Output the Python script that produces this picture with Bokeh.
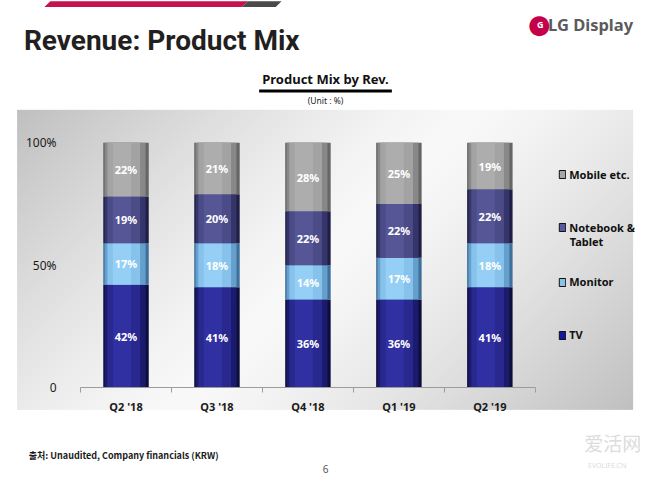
import numpy as np
from bokeh.plotting import figure
from bokeh.models import (ColumnDataSource, Range1d, LinearAxis, FixedTicker, Label,
                          Legend, LegendItem, BoxAnnotation, PolyAnnotation)
from bokeh.core.properties import value
from bokeh.embed import file_html
from bokeh.resources import INLINE

# ---------------- data ----------------
categories = ["Q2 '18", "Q3 '18", "Q4 '18", "Q1 '19", "Q2 '19"]
tv = [42, 41, 36, 36, 41]
monitor = [17, 18, 14, 17, 18]
notebook = [19, 20, 22, 22, 22]
mobile = [22, 21, 28, 25, 19]
series_keys = ["tv", "monitor", "notebook", "mobile"]
series_names = ["TV", "Monitor", "Notebook &", "Mobile etc."]
series_name_2nd_line = {"notebook": "Tablet"}
y_ticks = [0, 50, 100]
y_tick_labels = ["0", "50%", "100%"]

# ---------------- layout (reference pixels, scaled into the canvas) ----------------
W, H = 650, 480
FX, FY = W / 666.0, H / 496.0
PL, PR = 82, 548          # category band
BASE, TOP = 400, 147      # y of 0 and 100
n = len(categories)


def cx(px):
    return px * FX


def cy(py):
    return py * FY


sx = (PR - PL) * FX / n
sy = (BASE - TOP) * FY / 100.0
x_start = -0.5 - cx(PL) / sx
x_end = x_start + W / sx
y_end = 100 + cy(TOP) / sy
y_start = y_end - H / sy


def scr_x(px):
    return cx(px)


def scr_y(py):
    return H - cy(py)


def dx(px):
    return x_start + cx(px) / sx


def dy(py):
    return y_end - cy(py) / sy


p = figure(width=W, height=H, x_range=Range1d(x_start, x_end), y_range=Range1d(y_start, y_end),
           output_backend="svg", toolbar_location=None, min_border=0,
           x_axis_type=None, y_axis_type=None, outline_line_color=None,
           background_fill_color="white", border_fill_color="white")

# ---------------- panel gradient background ----------------
gx0, gx1, gy0, gy1 = 17, 649, 113, 423
gw, gh = int(cx(gx1) - cx(gx0)), int(cy(gy1) - cy(gy0))
u = np.linspace(0, 1, gw)[None, :]
v = np.linspace(0, 1, gh)[:, None]
t = (u * gw + v * gh) / (gw + gh)
d = np.abs(2 * t - 1)
g = (249 - (249 - 192) * d ** 1.3).astype(np.uint8)
img = np.zeros((gh, gw), dtype=np.uint32)
view = img.view(dtype=np.uint8).reshape((gh, gw, 4))
view[..., 0] = g
view[..., 1] = g
view[..., 2] = g
view[..., 3] = 255
img = img[::-1]
p.image_rgba(image=[img], x=dx(gx0), y=dy(gy1), dw=gw / sx, dh=gh / sy, level="image")

# ---------------- bars with cylinder shading ----------------
xs = np.arange(n)
shades = {
    "tv":       ["#0e0e3c", "#1b1b6e", "#28288f", "#3030a2"],
    "monitor":  ["#3f6f9a", "#65a0cc", "#86c2ec", "#96cff5"],
    "notebook": ["#1f1f44", "#35356c", "#4b4b88", "#565696"],
    "mobile":   ["#666666", "#888888", "#a3a3a3", "#adadad"],
}
layers = [(0.50, 0.0), (0.45, -0.01), (0.36, -0.025), (0.20, -0.045)]
for li, (w, off) in enumerate(layers):
    src = ColumnDataSource(dict(x=xs + off, tv=tv, monitor=monitor, notebook=notebook, mobile=mobile))
    p.vbar_stack(series_keys, x="x", width=w, source=src,
                 fill_color=[shades[k][li] for k in series_keys], line_color=None)

# ---------------- value labels ----------------
vals = np.array([tv, monitor, notebook, mobile], dtype=float)
cum = np.cumsum(vals, axis=0)
mid = cum - vals / 2
lab_src = ColumnDataSource(dict(
    x=np.tile(xs, 4),
    y=mid.flatten(),
    t=[f"{int(vv)}%" for vv in vals.flatten()],
))
p.text(x="x", y="y", text="t", source=lab_src, text_color="white",
       text_font=value("Noto Sans"), text_font_style="bold", text_font_size="11px",
       text_align="center", text_baseline="middle")

# ---------------- axes ----------------
xaxis = LinearAxis(fixed_location=0,
                   ticker=FixedTicker(ticks=[float(i) for i in xs],
                                      minor_ticks=[i - 0.5 for i in range(n + 1)]),
                   major_label_overrides={int(i): c for i, c in enumerate(categories)},
                   bounds=(-0.5, n - 0.5), axis_line_color="#9c9c9c",
                   major_tick_line_color=None, major_tick_out=0, major_tick_in=0,
                   minor_tick_line_color="#9c9c9c", minor_tick_in=0, minor_tick_out=5,
                   major_label_standoff=6, major_label_text_font="Noto Sans",
                   major_label_text_font_style="bold", major_label_text_font_size="11px",
                   major_label_text_color="#1a1a1a")
p.add_layout(xaxis, "below")

yaxis = LinearAxis(fixed_location=-0.5, ticker=FixedTicker(ticks=y_ticks),
                   major_label_overrides=dict(zip(y_ticks, y_tick_labels)),
                   axis_line_color=None, major_tick_line_color=None, minor_tick_line_color=None,
                   major_tick_out=0, major_tick_in=0, major_label_standoff=24,
                   major_label_text_font="Noto Sans", major_label_text_font_size="12px",
                   major_label_text_color="#1a1a1a")
p.add_layout(yaxis, "left")


# ---------------- texts helper ----------------
def add_label(text, px, py, size, color="#1a1a1a", font="Noto Sans", style="normal",
              align="left", baseline="middle", x_shift=0.0):
    p.add_layout(Label(x=scr_x(px) + x_shift, y=scr_y(py), x_units="screen", y_units="screen",
                       text=text, text_font=font, text_font_size=size, text_font_style=style,
                       text_color=color, text_align=align, text_baseline=baseline))


# ---------------- legend (one block per item, so each sits where the reference has it) ----------------
legend_colors = {"tv": "#1616a0", "monitor": "#86c2ea", "notebook": "#5a5aa2", "mobile": "#a6a6a6"}
legend_centers = {"mobile": 181, "notebook": 236, "monitor": 292, "tv": 347}
LEG_X, GLYPH_W, STANDOFF = 572, 8, 3
for k, name in zip(series_keys, series_names):
    r = p.vbar(x=[0], top=[float("nan")], width=0.5, fill_color=legend_colors[k],
               line_color="#111111", line_width=1)
    yc = legend_centers[k]
    lg = Legend(items=[LegendItem(label=name, renderers=[r])],
                location=(scr_x(LEG_X), scr_y(yc) - 6.5), orientation="vertical",
                glyph_width=GLYPH_W, glyph_height=10, label_standoff=STANDOFF, label_height=13,
                label_text_font="Noto Sans", label_text_font_style="bold",
                label_text_font_size="11px", label_text_color="#111111",
                padding=0, margin=0, spacing=0, border_line_color=None, background_fill_alpha=0)
    p.add_layout(lg)
    if k in series_name_2nd_line:
        add_label(series_name_2nd_line[k], LEG_X, yc + 13, "11px", color="#111111", style="bold",
                  x_shift=GLYPH_W + STANDOFF)

# ---------------- other texts ----------------
add_label("Revenue: Product Mix", 24, 41, "28px", color="#231f20", font="Roboto", style="bold")
add_label("\u25cf", 552, 24, "26px", color="#c5004a", font="DejaVu Sans", align="center")
add_label("G", 553, 24.5, "9px", color="white", style="bold", align="center")
add_label("LG Display", 561, 25, "16.5px", color="#5b5b5b", style="bold")
add_label("Product Mix by Rev.", 333, 81, "13px", color="#111111", style="bold", align="center")
add_label("(Unit : %)", 333, 103, "8.5px", color="#222222", align="center")
add_label("\ucd9c\ucc98: Unaudited, Company financials (KRW)", 29, 470, "9px", color="#1a1a1a",
          font="Noto Sans CJK KR", style="bold")
add_label("6", 333, 484, "10px", color="#555555", align="center")
add_label("\u7231\u6d3b\u7f51", 598, 457, "19px", color="#dcdcdc", font="Noto Sans CJK SC")
add_label("EVOLIFE.CN", 602, 480, "7px", color="#dcdcdc")

# title underline
p.add_layout(BoxAnnotation(left=scr_x(265), right=scr_x(401), bottom=scr_y(95), top=scr_y(92),
                           left_units="screen", right_units="screen",
                           bottom_units="screen", top_units="screen",
                           fill_color="black", fill_alpha=1, line_color=None, level="overlay"))

# header stripe
p.add_layout(PolyAnnotation(xs=[scr_x(45), scr_x(247), scr_x(254), scr_x(51)],
                            ys=[scr_y(6.7), scr_y(6.7), scr_y(0.7), scr_y(0.7)],
                            xs_units="screen", ys_units="screen",
                            fill_color="#c4124d", fill_alpha=1, line_color=None))
p.add_layout(PolyAnnotation(xs=[scr_x(247), scr_x(282), scr_x(288), scr_x(254)],
                            ys=[scr_y(6.7), scr_y(6.7), scr_y(0.7), scr_y(0.7)],
                            xs_units="screen", ys_units="screen",
                            fill_color="#4a4a4a", fill_alpha=1, line_color=None))

open("out.html", "w").write(file_html(p, INLINE))
